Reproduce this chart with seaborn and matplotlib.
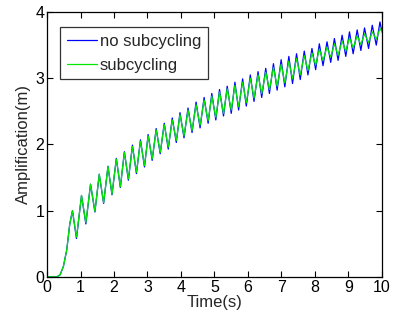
import numpy as np
import pandas as pd
import seaborn as sns
import matplotlib
matplotlib.use("Agg")
import matplotlib.pyplot as plt

# start-up part, common to both runs
rise_t = [0.0, 0.29, 0.39, 0.49, 0.59, 0.68]
rise_v = [0.0, 0.0, 0.03, 0.16, 0.41, 0.80]

# oscillation extrema
peak_t = [0.76, 1.03, 1.30, 1.56, 1.82, 2.07, 2.31, 2.55, 2.79, 3.02,
          3.26, 3.50, 3.74, 3.97, 4.21, 4.45, 4.69, 4.92, 5.15, 5.38,
          5.61, 5.84, 6.07, 6.30, 6.53, 6.76, 6.99, 7.22, 7.45, 7.68,
          7.91, 8.13, 8.36, 8.58, 8.81, 9.03, 9.26, 9.48, 9.71, 9.94]
trough_t = [0.88, 1.16, 1.43, 1.69, 1.94, 2.19, 2.43, 2.67, 2.91, 3.14,
            3.38, 3.62, 3.86, 4.09, 4.33, 4.57, 4.81, 5.04, 5.27, 5.50,
            5.72, 5.95, 6.18, 6.41, 6.64, 6.87, 7.10, 7.33, 7.56, 7.79,
            8.02, 8.24, 8.47, 8.69, 8.92, 9.14, 9.37, 9.60, 9.83, 10.0]

nosub_peak = [1.00, 1.23, 1.40, 1.55, 1.67, 1.79, 1.89, 1.99, 2.07, 2.15,
              2.24, 2.32, 2.40, 2.48, 2.55, 2.64, 2.71, 2.77, 2.83, 2.88,
              2.94, 2.99, 3.05, 3.10, 3.15, 3.22, 3.28, 3.33, 3.37, 3.41,
              3.45, 3.52, 3.55, 3.60, 3.65, 3.70, 3.73, 3.76, 3.80, 3.85]
nosub_trough = [0.58, 0.80, 0.98, 1.11, 1.24, 1.35, 1.46, 1.56, 1.66, 1.76,
                1.86, 1.93, 2.03, 2.10, 2.18, 2.25, 2.32, 2.37, 2.43, 2.47,
                2.52, 2.58, 2.65, 2.71, 2.77, 2.82, 2.87, 2.92, 2.98, 3.05,
                3.13, 3.19, 3.24, 3.27, 3.33, 3.37, 3.42, 3.45, 3.50, 3.70]

sub_peak = [1.00, 1.23, 1.40, 1.55, 1.67, 1.78, 1.88, 1.97, 2.05, 2.13,
            2.22, 2.30, 2.37, 2.45, 2.52, 2.60, 2.67, 2.73, 2.79, 2.84,
            2.89, 2.94, 3.00, 3.05, 3.09, 3.16, 3.21, 3.26, 3.30, 3.34,
            3.38, 3.44, 3.47, 3.52, 3.56, 3.61, 3.64, 3.67, 3.70, 3.75]
sub_trough = [0.60, 0.82, 0.99, 1.12, 1.25, 1.36, 1.48, 1.58, 1.68, 1.78,
              1.88, 1.96, 2.06, 2.13, 2.21, 2.29, 2.36, 2.41, 2.47, 2.52,
              2.57, 2.63, 2.70, 2.77, 2.83, 2.88, 2.93, 2.99, 3.05, 3.12,
              3.20, 3.27, 3.32, 3.35, 3.41, 3.46, 3.51, 3.54, 3.59, 3.70]

labels = ["no subcycling", "subcycling"]
colors = ["#0000ff", "#00e800"]

frames = []
for lab, pk, tr in [(labels[0], nosub_peak, nosub_trough),
                    (labels[1], sub_peak, sub_trough)]:
    t = rise_t + peak_t + trough_t
    v = rise_v + pk + tr
    frames.append(pd.DataFrame({"t": t, "v": v, "run": lab}))
df = pd.concat(frames, ignore_index=True)

sns.set_style("ticks")
plt.rcParams["font.family"] = ["Liberation Sans", "DejaVu Sans"]
plt.rcParams["font.size"] = 12

fig = plt.figure(figsize=(3.95, 3.25), dpi=100)
ax = fig.add_axes([0.119, 0.148, 0.848, 0.815])

sns.lineplot(data=df, x="t", y="v", hue="run", hue_order=labels,
             palette=colors, linewidth=0.9, ax=ax, estimator=None)

ax.set_xlim(0, 10)
ax.set_ylim(0, 4)
ax.set_xticks(range(0, 11))
ax.set_yticks(range(0, 5))
ax.tick_params(direction="in", top=True, right=True, length=4,
               width=0.8, labelsize=11.5, pad=2, colors="black")
for s in ax.spines.values():
    s.set_visible(True)
    s.set_linewidth(0.9)
    s.set_color("black")
ax.set_xlabel("Time(s)", fontsize=12, labelpad=0)
ax.set_ylabel("Amplification(m)", fontsize=12, labelpad=3)

leg = ax.legend(loc="upper left", bbox_to_anchor=(0.039, 0.944),
                frameon=True, fancybox=False, fontsize=12,
                handlelength=1.8, handletextpad=0.2, borderpad=0.4,
                labelspacing=0.55, borderaxespad=0)
leg.get_frame().set_edgecolor("black")
leg.get_frame().set_linewidth(0.9)
for ln in leg.get_lines():
    ln.set_linewidth(0.9)

fig.savefig("out.png", dpi=100)
